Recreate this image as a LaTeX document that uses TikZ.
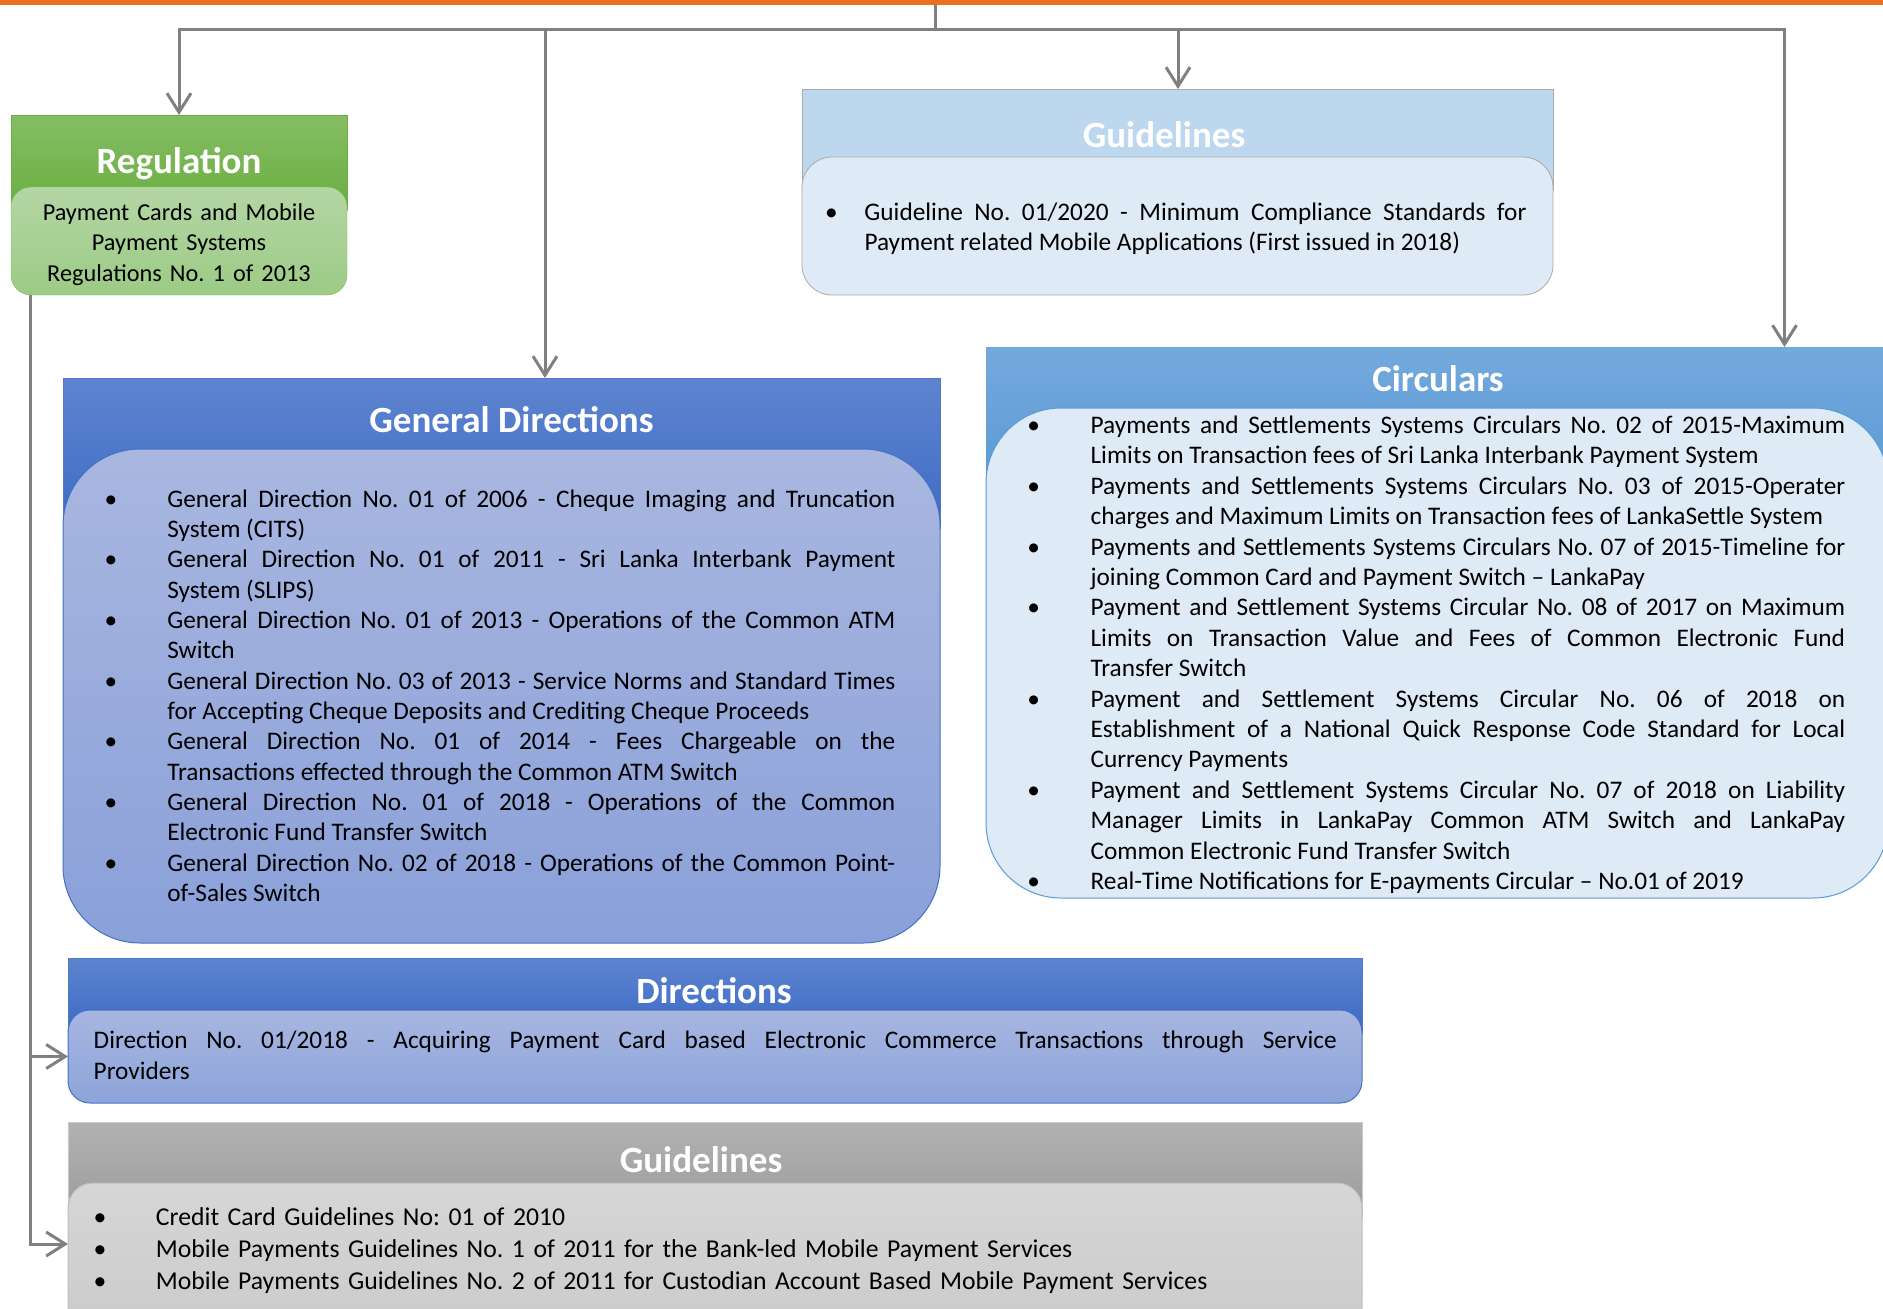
\documentclass[tikz,border=0pt]{standalone}
\usepackage{fontspec}
\setmainfont{Carlito}
\usetikzlibrary{arrows.meta}
\definecolor{conngray}{HTML}{808080}
\definecolor{orangebar}{HTML}{E8701E}
\hyphenpenalty=10000
\exhyphenpenalty=10000
\tolerance=10000
\frenchspacing
\newcommand{\bul}[1]{\noindent\llap{\makebox[0pt]{•}\hspace{#1}}}
\tikzset{
  boxbase/.style={rectangle, inner sep=0pt, outer sep=0pt, anchor=north west},
  body/.style={inner sep=0pt, outer sep=0pt, anchor=base west, text=black, align=justify},
  ttl/.style={inner sep=0pt, anchor=base, text=white, font=\fontsize{37}{44}\selectfont\bfseries},
  cline/.style={draw=conngray, line width=3pt},
  carr/.style={cline, -{Straight Barb[length=19pt,width=24pt]}},
}
\begin{document}
\begin{tikzpicture}[x=1pt,y=-1pt]
\useasboundingbox (0,0) rectangle (1883,1309);
\clip (0,0) rectangle (1883,1309);
\fill[orangebar] (0,0) rectangle (1883,5);

% ---------- Regulation ----------
\node[boxbase, minimum width=336pt, minimum height=95pt,
      top color={rgb,255:red,133;green,189;blue,101}, bottom color={rgb,255:red,106;green,174;blue,63}, draw={rgb,255:red,112;green,173;blue,71}] (reg) at (11,115) {};
\node[boxbase, rounded corners=20pt, minimum width=336pt, minimum height=108pt,
      top color={rgb,255:red,180;green,214;blue,165}, bottom color={rgb,255:red,156;green,203;blue,133}, draw={rgb,255:red,125;green,186;blue,90}] (regin) at (11,187) {};
\node[ttl] (regt) at (179,173) {Regulation};
\node[inner sep=0pt, anchor=base, text width=330pt, align=center, font=\fontsize{24.3}{30.5}\selectfont] (regx) at (179,220)
  {Payment Cards and Mobile\\Payment Systems\\Regulations No. 1 of 2013};

% ---------- Guidelines (top) ----------
\node[boxbase, minimum width=751pt, minimum height=101pt, fill={rgb,255:red,189;green,215;blue,238}, draw={rgb,255:red,170;green,170;blue,170}, line width=0.8pt] (gl1) at (802,89) {};
\node[boxbase, rounded corners=30pt, minimum width=751pt, minimum height=138pt, fill={rgb,255:red,222;green,234;blue,246}, draw={rgb,255:red,170;green,170;blue,170}, line width=0.8pt] (gl1in) at (802,157) {};
\node[ttl] (gl1t) at (1164,147) {Guidelines};
\node[body, text width=662pt, font=\fontsize{25.3}{30}\selectfont] (gl1x) at (864.5,220)
  {\bul{33pt}Guideline No. 01/2020 - Minimum Compliance Standards for\linebreak Payment related Mobile Applications (First issued in 2018)};

% ---------- General Directions ----------
\node[boxbase, minimum width=877pt, minimum height=150pt,
      top color={rgb,255:red,94;green,132;blue,207}, bottom color={rgb,255:red,61;green,108;blue,197}, draw={rgb,255:red,80;green,120;blue,200}] (gd) at (63,378) {};
\node[boxbase, rounded corners=77pt, minimum width=877pt, minimum height=494pt,
      top color={rgb,255:red,169;green,183;blue,224}, bottom color={rgb,255:red,138;green,160;blue,217}, draw={rgb,255:red,68;green,114;blue,196}, line width=1pt] (gdin) at (63,449) {};
\node[ttl] (gdt) at (511.5,432) {General Directions};
\node[body, text width=728pt, font=\fontsize{25.3}{30.35}\selectfont] (gdx) at (167.3,507)
  {\bul{56.5pt}General Direction No. 01 of 2006 - Cheque Imaging and Truncation\linebreak System (CITS)\par
   \bul{56.5pt}General Direction No. 01 of 2011 - Sri Lanka Interbank Payment\linebreak System (SLIPS)\par
   \bul{56.5pt}General Direction No. 01 of 2013 - Operations of the Common ATM\linebreak Switch\par
   \bul{56.5pt}General Direction No. 03 of 2013 - Service Norms and Standard Times\linebreak for Accepting Cheque Deposits and Crediting Cheque Proceeds\par
   \bul{56.5pt}General Direction No. 01 of 2014 - Fees Chargeable on the\linebreak Transactions effected through the Common ATM Switch\par
   \bul{56.5pt}General Direction No. 01 of 2018 - Operations of the Common\linebreak Electronic Fund Transfer Switch\par
   \bul{56.5pt}General Direction No. 02 of 2018 - Operations of the Common Point-\linebreak of-Sales Switch};

% ---------- Circulars ----------
\node[boxbase, minimum width=904pt, minimum height=135pt,
      top color={rgb,255:red,116;green,169;blue,221}, bottom color={rgb,255:red,91;green,155;blue,213}] (cir) at (986,347) {};
\node[boxbase, rounded corners=75pt, minimum width=902pt, minimum height=490pt,
      fill={rgb,255:red,222;green,234;blue,246}, draw={rgb,255:red,91;green,155;blue,213}, line width=1pt] (cirin) at (986,408) {};
\node[ttl] (cirt) at (1438,391) {Circulars};
\node[body, text width=754.6pt, font=\fontsize{25.3}{30.4}\selectfont] (cirx) at (1090.6,433.5)
  {\bul{57pt}Payments and Settlements Systems Circulars No. 02 of 2015-Maximum\linebreak Limits on Transaction fees of Sri Lanka Interbank Payment System\par
   \bul{57pt}Payments and Settlements Systems Circulars No. 03 of 2015-Operater\linebreak charges and Maximum Limits on Transaction fees of LankaSettle System\par
   \bul{57pt}Payments and Settlements Systems Circulars No. 07 of 2015-Timeline for\linebreak joining Common Card and Payment Switch – LankaPay\par
   \bul{57pt}Payment and Settlement Systems Circular No. 08 of 2017 on Maximum\linebreak Limits on Transaction Value and Fees of Common Electronic Fund\linebreak Transfer Switch\par
   \bul{57pt}Payment and Settlement Systems Circular No. 06 of 2018 on\linebreak Establishment of a National Quick Response Code Standard for Local\linebreak Currency Payments\par
   \bul{57pt}Payment and Settlement Systems Circular No. 07 of 2018 on Liability\linebreak Manager Limits in LankaPay Common ATM Switch and LankaPay\linebreak Common Electronic Fund Transfer Switch\par
   \bul{57pt}Real-Time Notifications for E-payments Circular – No.01 of 2019};

% ---------- Directions ----------
\node[boxbase, minimum width=1294pt, minimum height=75pt,
      top color={rgb,255:red,94;green,132;blue,207}, bottom color={rgb,255:red,58;green,106;blue,198}, draw={rgb,255:red,80;green,120;blue,200}] (dir) at (68,958) {};
\node[boxbase, rounded corners=22pt, minimum width=1294pt, minimum height=93pt,
      top color={rgb,255:red,167;green,182;blue,224}, bottom color={rgb,255:red,141;green,164;blue,218}, draw={rgb,255:red,68;green,114;blue,196}, line width=1pt] (dirin) at (68,1010) {};
\node[ttl] (dirt) at (714,1003) {Directions};
\node[body, text width=1243pt, font=\fontsize{25.3}{31.5}\selectfont] (dirx) at (93.7,1048)
  {Direction No. 01/2018 - Acquiring Payment Card based Electronic Commerce Transactions through Service\linebreak Providers};

% ---------- Guidelines (bottom, grey) ----------
\node[boxbase, minimum width=1294pt, minimum height=95pt,
      top color={rgb,255:red,178;green,178;blue,178}, bottom color={rgb,255:red,155;green,155;blue,155}, draw={rgb,255:red,200;green,200;blue,200}] (gl2) at (68,1122) {};
\node[boxbase, rounded corners=25pt, minimum width=1294pt, minimum height=150pt,
      top color={rgb,255:red,214;green,214;blue,214}, bottom color={rgb,255:red,203;green,203;blue,203}, draw={rgb,255:red,190;green,190;blue,190}, line width=1pt] (gl2in) at (68,1183) {};
\node[ttl] (gl2t) at (701,1172) {Guidelines};
\node[body, align=left, text width=1180pt, font=\fontsize{25.7}{32}\selectfont] (gl2x) at (156,1225)
  {\bul{56pt}Credit Card Guidelines No: 01 of 2010\par
   \bul{56pt}Mobile Payments Guidelines No. 1 of 2011 for the Bank-led Mobile Payment Services\par
   \bul{56pt}Mobile Payments Guidelines No. 2 of 2011 for Custodian Account Based Mobile Payment Services};

% ---------- connectors ----------
\coordinate (t0) at (935.5,5);
\coordinate (t1) at (935.5,29);
\coordinate (b2) at (545,29);
\coordinate (b3) at (1178,29);
\coordinate (b4) at (1784.5,29);
\draw[cline] (t0) -- (t1);
\draw[carr] (t1) -| (reg.north);
\draw[carr] (t1) -| (b4 |- cir.north);
\draw[carr] (b2) -- (b2 |- gd.north);
\draw[carr] (b3) -- (b3 |- gl1.north);
\coordinate (lj) at ([xshift=19pt]regin.south west);
\draw[carr] (lj) |- (dirin.west);
\draw[carr] (lj) |- ([yshift=-61pt]gl2in.north west);
\end{tikzpicture}
\end{document}
